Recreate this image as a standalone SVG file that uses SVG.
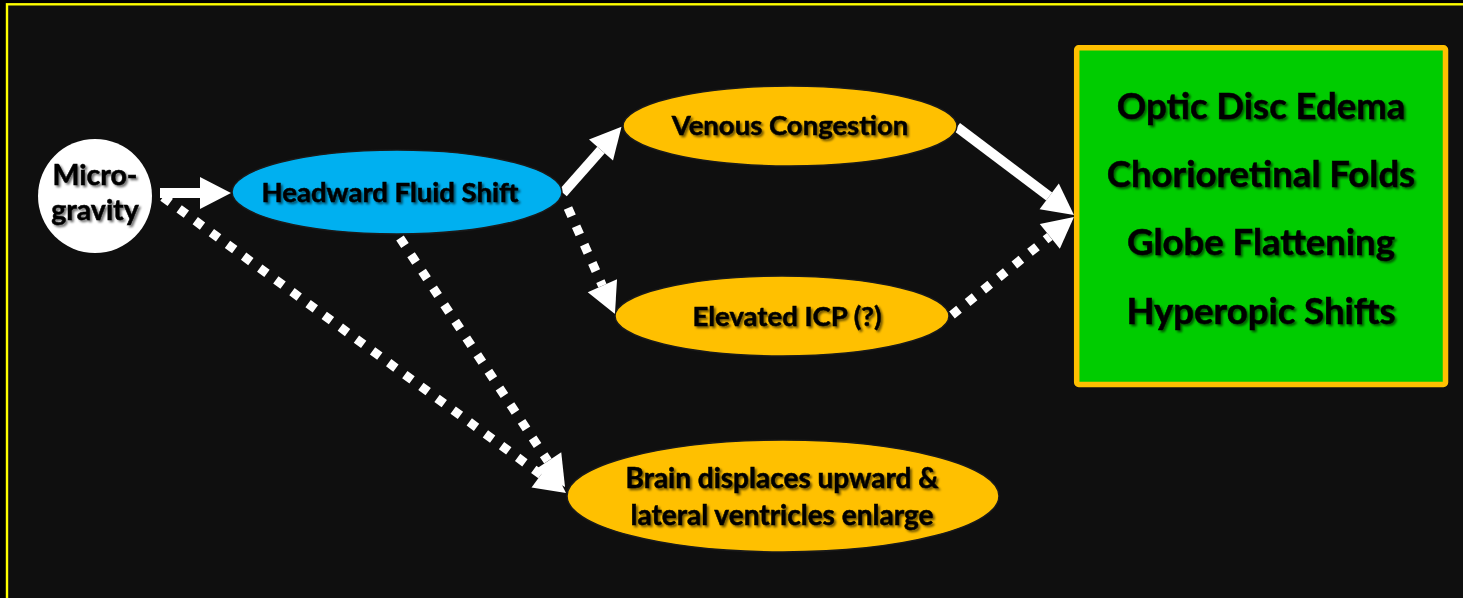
<svg xmlns="http://www.w3.org/2000/svg" width="1463" height="598" viewBox="0 0 1463 598">
  <defs>
    <filter id="txtShadow" x="-10%" y="-30%" width="130%" height="170%">
      <feDropShadow dx="2" dy="2" stdDeviation="1.2" flood-color="#000" flood-opacity="0.55"/>
    </filter>
    <marker id="head" markerUnits="userSpaceOnUse" markerWidth="40" markerHeight="40" refX="0" refY="16" orient="auto" overflow="visible">
      <path d="M0,0 L31,16 L0,32 z" fill="#ffffff"/>
    </marker>
    <style>
      .lbl { font-family: Lato, "Liberation Sans", sans-serif; font-weight: 700; fill: #000; stroke: #000; stroke-width: 0.5; text-anchor: middle; filter: url(#txtShadow); }
      .yel { fill: #ffc000; stroke: #1a1a1a; stroke-width: 1.5; }
      .blu { fill: #00b0f0; stroke: #1a1a1a; stroke-width: 1.5; }
      .solid { stroke: #ffffff; stroke-width: 10; fill: none; marker-end: url(#head); }
      .dot { stroke: #ffffff; stroke-width: 9; fill: none; stroke-dasharray: 9 11; marker-end: url(#head); }
    </style>
  </defs>

  <!-- backdrop and frame -->
  <rect x="0" y="0" width="1463" height="598" fill="#000"/>
  <rect x="7" y="4.3" width="1480" height="620" fill="#0f0f0f" stroke="#ffff00" stroke-width="2.4"/>

  <!-- connectors -->
  <g id="connectors">
    <line class="solid" x1="160" y1="193" x2="200" y2="193"/>
    <line class="solid" x1="563" y1="193" x2="601" y2="150"/>
    <line class="dot" x1="568" y1="208" x2="602.4" y2="285.7"/>
    <line class="solid" x1="957" y1="127" x2="1049.2" y2="196.4"/>
    <line class="dot" x1="952" y1="315" x2="1049.8" y2="236.4"/>
    <line class="dot" x1="163" y1="197" x2="541" y2="474.6"/>
    <line class="dot" x1="400" y1="238" x2="547.9" y2="461.1"/>
  </g>

  <!-- nodes -->
  <g id="microgravity">
    <circle cx="95" cy="196" r="57" fill="#ffffff"/>
    <text class="lbl" x="95" y="185" font-size="28.5">Micro-</text>
    <text class="lbl" x="95" y="220" font-size="28.5">gravity</text>
  </g>

  <g id="headward">
    <ellipse class="blu" cx="397" cy="192" rx="165" ry="42"/>
    <text class="lbl" x="390" y="202" font-size="27.5">Headward Fluid Shift</text>
  </g>

  <g id="venous">
    <ellipse class="yel" cx="790" cy="126" rx="167" ry="40"/>
    <text class="lbl" x="790" y="135" font-size="27.5">Venous Congestion</text>
  </g>

  <g id="icp">
    <ellipse class="yel" cx="782" cy="316" rx="167" ry="40"/>
    <text class="lbl" x="787" y="326" font-size="27.5">Elevated ICP (?)</text>
  </g>

  <g id="brain">
    <ellipse class="yel" cx="783" cy="496" rx="216" ry="56"/>
    <text class="lbl" x="782" y="488" font-size="28">Brain displaces upward &amp;</text>
    <text class="lbl" x="782" y="525" font-size="28">lateral ventricles enlarge</text>
  </g>

  <g id="outcomes">
    <rect x="1076.7" y="47.8" width="368.8" height="336.7" rx="2" fill="#00cc00" stroke="#ffc000" stroke-width="5.5"/>
    <text class="lbl" x="1261" y="119" font-size="36.5">Optic Disc Edema</text>
    <text class="lbl" x="1261" y="187" font-size="36.5">Chorioretinal Folds</text>
    <text class="lbl" x="1261" y="255" font-size="36.5">Globe Flattening</text>
    <text class="lbl" x="1261" y="324" font-size="36.5">Hyperopic Shifts</text>
  </g>
</svg>
